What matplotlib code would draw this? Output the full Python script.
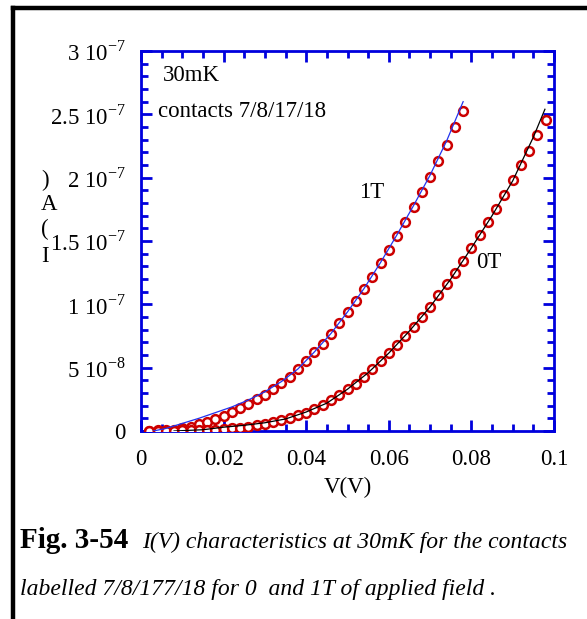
import numpy as np
import matplotlib
matplotlib.use("Agg")
import matplotlib.pyplot as plt
from matplotlib.ticker import MultipleLocator, FixedLocator, FixedFormatter

plt.rcParams['font.family'] = ['Liberation Serif', 'DejaVu Serif']
plt.rcParams['mathtext.fontset'] = 'custom'
plt.rcParams['mathtext.rm'] = 'Liberation Serif'

# ---- data (current in units of 1e-7 A) ----
v_1T = [0.002, 0.004, 0.006, 0.008, 0.010, 0.012, 0.014, 0.016, 0.018, 0.020,
        0.022, 0.024, 0.026, 0.028, 0.030, 0.032, 0.034, 0.036, 0.038, 0.040,
        0.042, 0.044, 0.046, 0.048, 0.050, 0.052, 0.054, 0.056, 0.058, 0.060,
        0.062, 0.064, 0.066, 0.068, 0.070, 0.072, 0.074, 0.076, 0.078]
i_1T = [0.003, 0.004, 0.006, 0.010, 0.021, 0.034, 0.053, 0.073, 0.095, 0.118,
        0.148, 0.179, 0.213, 0.250, 0.284, 0.329, 0.381, 0.429, 0.490, 0.556,
        0.624, 0.687, 0.768, 0.853, 0.939, 1.029, 1.121, 1.216, 1.324, 1.429,
        1.540, 1.648, 1.766, 1.885, 2.005, 2.130, 2.258, 2.400, 2.526]

v_0T = [0.002, 0.004, 0.006, 0.008, 0.010, 0.012, 0.014, 0.016, 0.018, 0.020,
        0.022, 0.024, 0.026, 0.028, 0.030, 0.032, 0.034, 0.036, 0.038, 0.040,
        0.042, 0.044, 0.046, 0.048, 0.050, 0.052, 0.054, 0.056, 0.058, 0.060,
        0.062, 0.064, 0.066, 0.068, 0.070, 0.072, 0.074, 0.076, 0.078, 0.080,
        0.082, 0.084, 0.086, 0.088, 0.090, 0.092, 0.094, 0.096, 0.098]
i_0T = [0.000, 0.000, 0.002, 0.003, 0.004, 0.005, 0.006, 0.008, 0.010, 0.015,
        0.020, 0.025, 0.035, 0.045, 0.055, 0.073, 0.087, 0.105, 0.129, 0.145,
        0.174, 0.205, 0.242, 0.284, 0.329, 0.373, 0.429, 0.492, 0.553, 0.615,
        0.682, 0.750, 0.823, 0.902, 0.977, 1.071, 1.161, 1.250, 1.342, 1.445,
        1.545, 1.647, 1.751, 1.861, 1.979, 2.098, 2.213, 2.337, 2.455]

# fit lines
fit_v_1T = [0.003, 0.006, 0.010, 0.014, 0.018, 0.022, 0.026, 0.030, 0.034, 0.038,
            0.042, 0.046, 0.050, 0.054, 0.058, 0.062, 0.066, 0.070, 0.074, 0.078]
fit_i_1T = [0.000, 0.020, 0.060, 0.100, 0.145, 0.190, 0.245, 0.310, 0.390, 0.490,
            0.625, 0.770, 0.940, 1.125, 1.330, 1.550, 1.780, 2.020, 2.290, 2.600]
fit_v_0T = [0.008, 0.015, 0.020, 0.025, 0.030, 0.035, 0.040, 0.045, 0.050, 0.055,
            0.060, 0.065, 0.070, 0.075, 0.080, 0.085, 0.090, 0.095, 0.0978]
fit_i_0T = [0.000, 0.010, 0.030, 0.045, 0.065, 0.095, 0.150, 0.220, 0.330, 0.460,
            0.615, 0.790, 0.980, 1.200, 1.445, 1.700, 1.975, 2.320, 2.540]

y_ticks = [0, 0.5, 1.0, 1.5, 2.0, 2.5, 3.0]
y_tick_labels = ['0', r'5 10$^{-8}$', r'1 10$^{-7}$', r'1.5 10$^{-7}$',
                 r'2 10$^{-7}$', r'2.5 10$^{-7}$', r'3 10$^{-7}$']
x_ticks = [0, 0.02, 0.04, 0.06, 0.08, 0.1]
x_tick_labels = ['0', '0.02', '0.04', '0.06', '0.08', '0.1']

W, H = 587, 619
FS = 16.5
fig = plt.figure(figsize=(W / 100, H / 100), dpi=100)

# partial frame (left and top)
fig.add_artist(plt.Line2D([13 / W, 13 / W], [0, 1 - 8 / H], color='black', lw=3.2,
                          transform=fig.transFigure, solid_capstyle='projecting'))
fig.add_artist(plt.Line2D([13 / W, 1], [1 - 8 / H, 1 - 8 / H], color='black', lw=3.2,
                          transform=fig.transFigure, solid_capstyle='projecting'))

ax = fig.add_axes([141 / W, 1 - 431 / H, (554 - 141) / W, (431 - 51) / H])
blue = '#0000dd'
red = '#cc0000'

ax.plot(v_1T, i_1T, linestyle='none', marker='o', ms=6.3, mfc='white', mec=red, mew=1.8, zorder=3)
ax.plot(v_0T, i_0T, linestyle='none', marker='o', ms=6.3, mfc='white', mec=red, mew=1.8, zorder=3)
ax.plot(fit_v_1T, fit_i_1T, color='#2233ee', lw=0.9, zorder=4)
ax.plot(fit_v_0T, fit_i_0T, color='black', lw=0.9, zorder=4)

ax.set_xlim(0, 0.1)
ax.set_ylim(0, 3.0)
ax.xaxis.set_major_locator(FixedLocator(x_ticks))
ax.xaxis.set_major_formatter(FixedFormatter(x_tick_labels))
ax.xaxis.set_minor_locator(MultipleLocator(0.005))
ax.yaxis.set_major_locator(FixedLocator(y_ticks))
ax.yaxis.set_major_formatter(FixedFormatter(y_tick_labels))
ax.yaxis.set_minor_locator(MultipleLocator(0.1))

for s in ax.spines.values():
    s.set_color(blue)
    s.set_linewidth(2)
ax.tick_params(which='both', direction='in', top=True, right=True, color=blue, width=2)
ax.tick_params(which='major', length=8, labelsize=FS, pad=11)
ax.tick_params(which='minor', length=5)
ax.tick_params(axis='x', which='major', pad=13)

ax.text(0.0052, 2.81, '30mK', fontsize=FS, va='center', ha='left')
ax.text(0.0040, 2.52, 'contacts 7/8/17/18', fontsize=FS, va='center', ha='left')
ax.text(0.0528, 1.88, '1T', fontsize=FS, va='center', ha='left')
ax.text(0.0812, 1.33, '0T', fontsize=FS, va='center', ha='left')

fig.text(348 / W, 1 - 487 / H, 'V(V)', fontsize=FS, ha='center', va='center')

for ch, y in [(')', 180), ('A', 205), ('(', 229), ('I', 256)]:
    fig.text(41 / W, 1 - y / H, ch, fontsize=FS, ha='left', va='center')

fig.text(20 / W, 1 - 548 / H, 'Fig. 3-54', fontsize=21, fontweight='bold', ha='left', va='baseline')
fig.text(142 / W, 1 - 548 / H, 'I(V) characteristics at 30mK for the contacts',
         fontsize=17, style='italic', ha='left', va='baseline')
fig.text(20 / W, 1 - 595 / H, 'labelled 7/8/177/18 for 0  and 1T of applied field .',
         fontsize=17, style='italic', ha='left', va='baseline')

fig.savefig('out.png', dpi=100)
